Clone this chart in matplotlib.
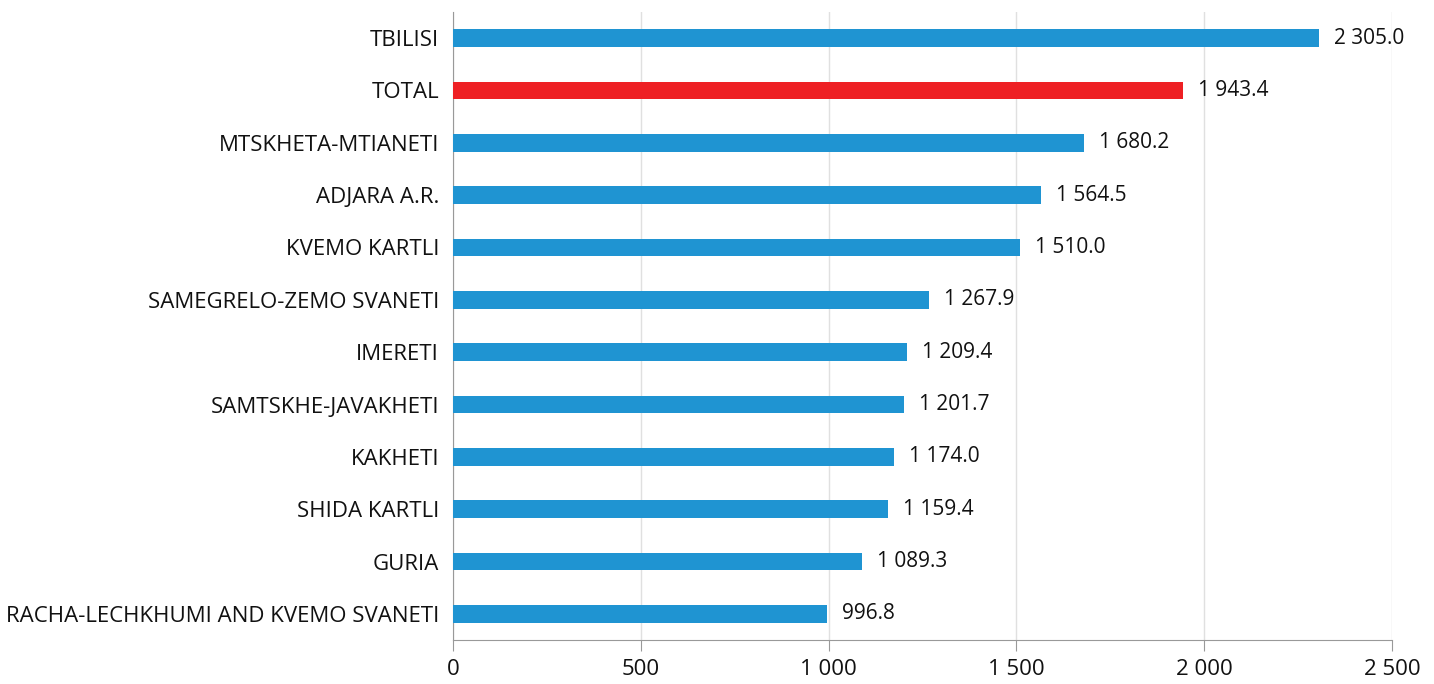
import matplotlib.pyplot as plt

regions = ["TBILISI", "TOTAL", "MTSKHETA-MTIANETI", "ADJARA A.R.", "KVEMO KARTLI",
           "SAMEGRELO-ZEMO SVANETI", "IMERETI", "SAMTSKHE-JAVAKHETI", "KAKHETI",
           "SHIDA KARTLI", "GURIA", "RACHA-LECHKHUMI AND KVEMO SVANETI"]
values = [2305.0, 1943.4, 1680.2, 1564.5, 1510.0, 1267.9, 1209.4, 1201.7,
          1174.0, 1159.4, 1089.3, 996.8]
xticks = [0, 500, 1000, 1500, 2000, 2500]

plt.rcParams['font.family'] = ['Open Sans', 'DejaVu Sans']

def fmt(v, dec=1):
    s = f"{v:,.{dec}f}"
    return s.replace(",", " ")

fig = plt.figure(figsize=(14.34, 6.84), dpi=100)
ax = fig.add_axes([0.3159, 0.0643, 0.6548, 0.9182])

colors = ["#ee2024" if r == "TOTAL" else "#1f94d2" for r in regions]
ypos = list(range(len(regions)))
ax.barh(ypos, values, height=0.34, color=colors, zorder=3)

for y, v in zip(ypos, values):
    ax.text(v + 40, y, fmt(v), va='center', ha='left', fontsize=15, color='#111111')

ax.set_ylim(len(regions) - 0.5, -0.5)
ax.set_xlim(0, 2500)
ax.set_yticks(ypos)
ax.set_yticklabels(regions, fontsize=16, color='#111111')
ax.set_xticks(xticks)
ax.set_xticklabels([fmt(t, 0) for t in xticks], fontsize=16, color='#111111')
ax.tick_params(axis='y', length=0, pad=10)
ax.tick_params(axis='x', length=8, color='#999999', pad=6)
ax.grid(axis='x', color='#e0e0e0', linewidth=1, zorder=0)
for s in ['top', 'right']:
    ax.spines[s].set_visible(False)
ax.spines['left'].set_color('#999999')
ax.spines['bottom'].set_color('#999999')

fig.savefig("out.png", dpi=100)
